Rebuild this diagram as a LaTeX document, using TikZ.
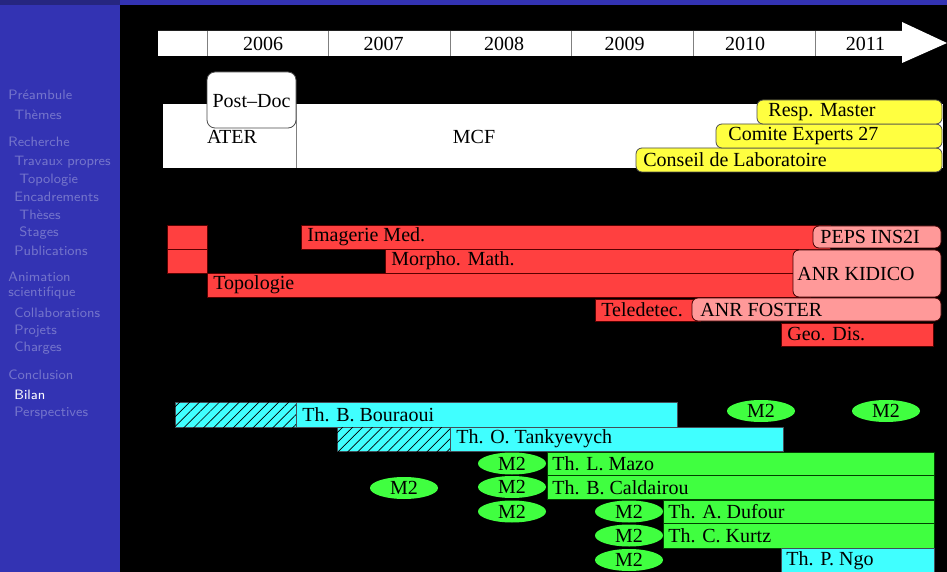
\documentclass[tikz,border=0pt]{standalone}
\usepackage{fontspec}
\setmainfont{Liberation Serif}
\usetikzlibrary{shapes.geometric,patterns.meta}

\definecolor{sidebg}{RGB}{51,51,179}
\definecolor{sidetop}{RGB}{38,38,128}
\colorlet{sidefade}{white!32!sidebg}
\definecolor{barred}{RGB}{255,64,64}
\definecolor{barpink}{RGB}{255,153,153}
\definecolor{baryellow}{RGB}{255,255,64}
\definecolor{barcyan}{RGB}{64,255,255}
\definecolor{bargreen}{RGB}{64,255,64}

\tikzset{
	sideitem/.style={anchor=west, inner sep=0pt, text=sidefade, font=\fontsize{6.8}{8}\selectfont\sffamily},
	plaintext/.style={inner sep=0pt, font=\fontsize{10}{12}\selectfont},
	bartext/.style={anchor=west, inner xsep=3pt, inner ysep=0pt, font=\fontsize{10}{12}\selectfont},
	redbar/.style={fill=barred, draw=red!35!black, line width=0.4pt},
	pinkbox/.style={fill=barpink, draw=red!25!black, line width=0.4pt, rounded corners=3pt},
	dutybox/.style={fill=baryellow, draw=black!70, line width=0.4pt, rounded corners=3pt},
	cyanbar/.style={fill=barcyan, draw=cyan!25!black, line width=0.4pt},
	greenbar/.style={fill=bargreen, draw=green!25!black, line width=0.4pt},
	hatched/.style={cyanbar, postaction={pattern={Lines[angle=45, distance=3.5pt, line width=0.35pt]}, pattern color=black}},
	mtwo/.style={ellipse, fill=bargreen, minimum width=34pt, minimum height=11pt, inner sep=0pt, font=\fontsize{10}{12}\selectfont},
}

\begin{document}
\begin{tikzpicture}[x=0.5pt, y=-0.5pt]

	\useasboundingbox (0,0) rectangle (947,572);
	\fill[black] (0,0) rectangle (947,572);

	% sidebar
	\fill[sidebg] (0,0) rectangle (120,572);
	\fill[sidebg] (120,0) rectangle (947,5);
	\fill[sidetop] (0,0) rectangle (120,5);

	\node[sideitem] (preambule) at (8,95) {Préambule};
	\node[sideitem] (themes) at (14,115) {Thèmes};
	\node[sideitem] (recherche) at (8,142) {Recherche};
	\node[sideitem] (travaux) at (14,162) {Travaux propres};
	\node[sideitem] (topo) at (19,180) {Topologie};
	\node[sideitem] (encadrements) at (14,197) {Encadrements};
	\node[sideitem] (theses) at (19,215) {Thèses};
	\node[sideitem] (stages) at (19,233) {Stages};
	\node[sideitem] (publications) at (14,251) {Publications};
	\node[sideitem] (animation) at (8,277) {Animation};
	\node[sideitem] (scientifique) at (8,293) {scientifique};
	\node[sideitem] (collaborations) at (14,313) {Collaborations};
	\node[sideitem] (projets) at (14,331) {Projets};
	\node[sideitem] (charges) at (14,348) {Charges};
	\node[sideitem] (conclusion) at (8,375) {Conclusion};
	\node[sideitem, text=white] (bilan) at (14,395) {Bilan};
	\node[sideitem] (perspectives) at (14,413) {Perspectives};

	% time line
	\fill[white] (158,31) -- (902,31) -- (902,22) -- (947,43) -- (902,63) -- (902,56) -- (158,56) -- cycle;
	\foreach \yr [count=\i from 0] in {2006,...,2011}{
		\draw[gray] (207+121.6*\i,31) -- (207+121.6*\i,56);
		\node[plaintext] (y\yr) at (263+120.5*\i,44) {\yr};
	}

	% positions
	\fill[white] (163,104) rectangle (943,168);
	\draw[gray] (296,104) -- (296,168);
	\node[plaintext] (ater) at (232,137) {ATER};
	\node[plaintext] (mcf) at (474,137) {MCF};
	\draw[fill=white, draw=black!70, rounded corners=4pt] (207,72) rectangle (296,128);
	\node[plaintext] (postdoc) at (251.5,101) {Post--Doc};

	\draw[dutybox] (636,148) rectangle (942,172);
	\node[bartext] (conseil) at (637,160) {Conseil de Laboratoire};
	\draw[dutybox] (716,124) rectangle (942,148);
	\node[bartext] (comite) at (722,136) {Comite Experts 27};
	\draw[dutybox] (757,100) rectangle (942,124);
	\node[bartext] (master) at (762,112) {Resp. Master};

	% research
	\draw[redbar] (167,225) rectangle (207,249);
	\draw[redbar] (167,249) rectangle (207,273);
	\draw[redbar] (301,225) rectangle (830,249);
	\draw[redbar] (385,249) rectangle (810,273);
	\draw[redbar] (207,273) rectangle (810,297);
	\draw[pinkbox] (813,226) rectangle (941,248);
	\draw[pinkbox] (793,250) rectangle (941,297);
	\draw[redbar] (595,299) rectangle (700,321);
	\draw[pinkbox] (692,298) rectangle (941,321);
	\draw[redbar] (781,323) rectangle (933,346);

	\node[bartext] (imagerie) at (301,237) {Imagerie Med.};
	\node[bartext] (morpho) at (385,261) {Morpho. Math.};
	\node[bartext] (topologie) at (207,285) {Topologie};
	\node[bartext] (peps) at (814,237) {PEPS INS2I};
	\node[bartext] (kidico) at (791,274) {ANR KIDICO};
	\node[bartext] (teledetec) at (595,310) {Teledetec.};
	\node[bartext] (foster) at (694,310) {ANR FOSTER};
	\node[bartext] (geodis) at (781,334) {Geo. Dis.};

	% supervision
	\draw[hatched] (175,402) rectangle (296,427);
	\draw[cyanbar] (296,402) rectangle (677,427);
	\node[bartext] (bouraoui) at (296,415) {Th. B. Bouraoui};
	\draw[hatched] (337,427) rectangle (450,451);
	\draw[cyanbar] (450,427) rectangle (783,451);
	\node[bartext] (tankyevych) at (450,439) {Th. O. Tankyevych};

	\draw[greenbar] (547,452) rectangle (934,475);
	\node[bartext] (mazo) at (546,464) {Th. L. Mazo};
	\draw[greenbar] (547,475) rectangle (934,499);
	\node[bartext] (caldairou) at (546,488) {Th. B. Caldairou};
	\draw[greenbar] (663,500) rectangle (934,523.5);
	\node[bartext] (dufour) at (662,512) {Th. A. Dufour};
	\draw[greenbar] (663,523.5) rectangle (934,548);
	\node[bartext] (kurtz) at (662,536) {Th. C. Kurtz};
	\draw[cyanbar] (781,548) rectangle (934,576);
	\node[bartext] (ngo) at (780,561) {Th. P. Ngo};

	\node[mtwo] (mtwoA) at (761,411) {M2};
	\node[mtwo] (mtwoB) at (886,411) {M2};
	\node[mtwo] (mtwoC) at (512,463.5) {M2};
	\node[mtwo] (mtwoD) at (404,488) {M2};
	\node[mtwo] (mtwoE) at (512,487) {M2};
	\node[mtwo] (mtwoF) at (512,511.5) {M2};
	\node[mtwo] (mtwoG) at (629,511.5) {M2};
	\node[mtwo] (mtwoH) at (629,535.5) {M2};
	\node[mtwo] (mtwoI) at (629,560) {M2};

\end{tikzpicture}
\end{document}
